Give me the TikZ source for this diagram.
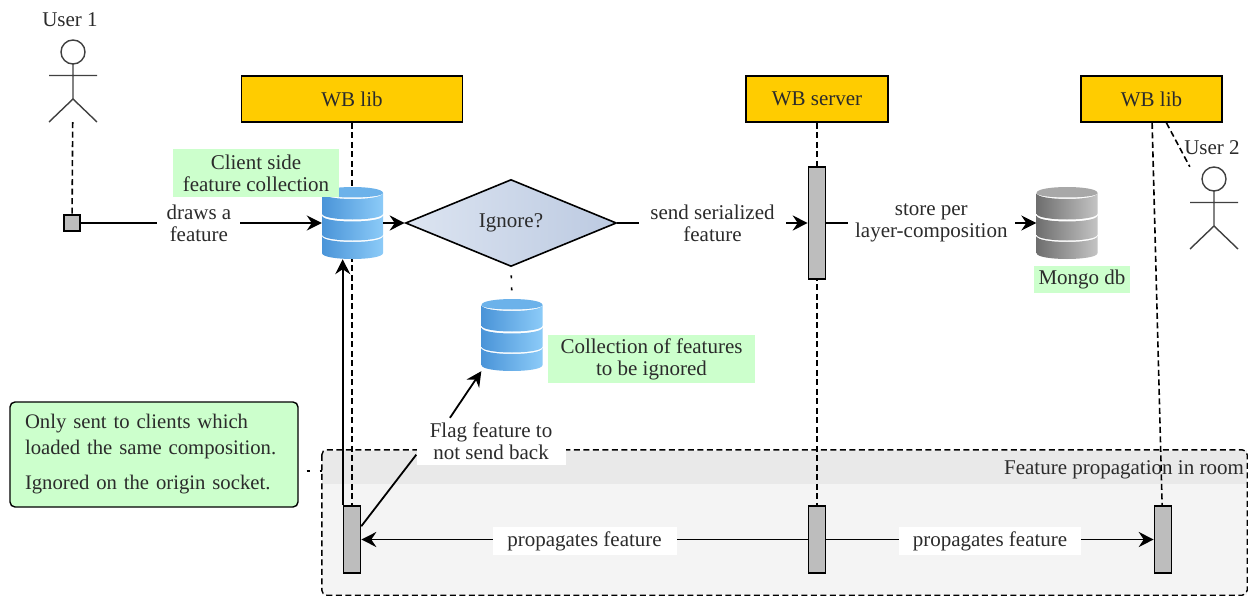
\documentclass[tikz,border=0pt]{standalone}
\usepackage{fontspec}
\setmainfont{Liberation Serif}
\usetikzlibrary{arrows.meta,shapes.geometric}
\pgfdeclarelayer{background}
\pgfdeclarelayer{lines}
\pgfsetlayers{background,lines,main}
\definecolor{headfill}{HTML}{FFCC00}
\definecolor{notegreen}{HTML}{CCFFCC}
\definecolor{barfill}{HTML}{BDBDBD}
\definecolor{roomfill}{HTML}{F4F4F4}
\definecolor{bandfill}{HTML}{E9E9E9}
\definecolor{inkgray}{HTML}{2B2B2B}
\definecolor{ignoreleft}{HTML}{DCE4F1}
\definecolor{ignoreright}{HTML}{BCCAE1}
\definecolor{bluedark}{HTML}{4A94D8}
\definecolor{bluemid}{HTML}{62AEEA}
\definecolor{bluelight}{HTML}{8CCBF8}
\definecolor{bluetop}{HTML}{6CB2EA}
\definecolor{greydark}{HTML}{6E6E6E}
\definecolor{greymid}{HTML}{9C9C9C}
\definecolor{greylight}{HTML}{C4C4C4}
\definecolor{greytop}{HTML}{A8A8A8}
\begin{document}
\begin{tikzpicture} [
                x=1pt,y=-1pt,
                font=\fontsize{21}{22}\selectfont,
                every node/.append style={text=inkgray},
                header/.style={draw=black,fill=headfill,line width=1.8pt,minimum height=46pt,inner sep=0pt},
                bar/.style={draw=black,fill=barfill,line width=1.6pt,minimum width=17pt,inner sep=0pt},
                mark box/.style={draw=black,fill=barfill,line width=1.6pt,minimum size=16pt,inner sep=0pt},
                hold/.style={minimum width=61pt,minimum height=72pt,inner sep=0pt},
                figure box/.style={minimum width=48pt,minimum height=82pt,inner sep=0pt},
                tag/.style={fill=notegreen,inner sep=0pt,align=center},
                lbl/.style={fill=white,align=center,inner sep=0pt},
                plain/.style={draw=black,line width=1.8pt},
                flow/.style={plain,-{Stealth[length=15pt,width=15pt,inset=5pt]}},
                lifeline/.style={draw=black,line width=1.6pt,dash pattern=on 6pt off 3.5pt},
                dots/.style={draw=black,line width=1.6pt},
                pics/actor/.style={code={
                    \draw[draw=black!75,line width=1.4pt] (0,-29) circle (12)
                        (0,-17) -- (0,18) (-24,-5.5) -- (24,-5.5)
                        (-24,41) -- (0,18) -- (24,41);
                }},
                pics/dbstack/.style n args={4}{code={
                    \fill[white] (-30.5,-30) .. controls (-30.5,-38) and (30.5,-38) .. (30.5,-30)
                        -- (30.5,30) .. controls (30.5,38) and (-30.5,38) .. (-30.5,30) -- cycle;
                    \foreach \top/\bot in {-30/-9.5,-7.5/11.5,13/30}
                        \shade[left color=#1,middle color=#2,right color=#3]
                            (-30.5,\top) -- (-30.5,\bot) .. controls (-30.5,\bot+8) and (30.5,\bot+8) .. (30.5,\bot)
                            -- (30.5,\top) .. controls (30.5,\top+8) and (-30.5,\top+8) .. cycle;
                    \fill[#4] (-30.5,-30) .. controls (-30.5,-38) and (30.5,-38) .. (30.5,-30)
                        .. controls (30.5,-24) and (-30.5,-24) .. cycle;
                }},
            ]
            \useasboundingbox (0,0) rectangle (1252,596);

            \foreach \pos/\name/\boxw/\txt in {
                    {(352,99)/liba/221/WB lib}, {(817,99)/server/142/WB server}, {(1151.5,99)/libb/141/WB lib}}
                \node[header,minimum width=\boxw pt] (\name) at \pos {\txt};

            \node[mark box] (mark) at (72,223) {};
            \node[figure box] (user1) at (73,81) {};
            \node[figure box] (user2) at (1214,208) {};
            \pic at (user1) {actor};
            \pic at (user2) {actor};
            \node[inner sep=0pt] (user1name) at (70,20) {User 1};
            \node[inner sep=0pt] (user2name) at (1212,148) {User 2};

            \node[bar,minimum height=112pt] (srvbar) at (817,223) {};
            \foreach \pos/\name in {
                    {(352,539.5)/lowa}, {(817,539.5)/lows}, {(1163,539.5)/lowb}}
                \node[bar,minimum height=67pt] (\name) at \pos {};

            \node[hold] (coll) at (352.5,223) {};
            \node[hold] (skip) at (512,335) {};
            \node[hold] (mongo) at (1067,223) {};

            % room in the back
            \begin{pgfonlayer}{background}
                \node[fill=roomfill,minimum width=925pt,minimum height=145pt,inner sep=0pt] (room) at (784.5,522.5) {};
                \node[fill=bandfill,minimum width=925pt,minimum height=33pt,inner sep=0pt] (band) at (784.5,467.5) {};
                \draw[line width=1.4pt,dash pattern=on 6pt off 3.5pt,rounded corners=5pt] (room.north west) rectangle (room.south east);
                \node[anchor=east,inner sep=0pt] (roomtitle) at (1244,470) {Feature propagation in room};
            \end{pgfonlayer}

            % lifelines
            \begin{pgfonlayer}{lines}
                \foreach \source/ \dest in {
                        user1/mark,liba/lowa,server/lows,libb/lowb}
                    \path[lifeline] (\source) -- (\dest);
                \path[lifeline] (libb.-58) -- (user2.north west);
            \end{pgfonlayer}

            \pic at (coll) {dbstack={bluedark}{bluemid}{bluelight}{bluetop}};
            \pic at (skip) {dbstack={bluedark}{bluemid}{bluelight}{bluetop}};
            \pic at (mongo) {dbstack={greydark}{greymid}{greylight}{greytop}};

            \node[diamond,draw=black,line width=1.6pt,left color=ignoreleft,right color=ignoreright,
                aspect=2.44,minimum width=211pt,minimum height=87pt,inner sep=0pt] (ignore) at (511,223) {\raisebox{-2.5pt}{Ignore?}};

            \path[flow] (mark) -- node[lbl,pos=.49,minimum width=83pt,minimum height=44pt] (draws) {draws a\\feature} (coll);
            \path[flow] (coll) -- (ignore);
            \path[flow] (ignore) -- node[lbl,minimum width=147pt,minimum height=44pt] (send) {send serialized\\feature} (srvbar);
            \path[flow] (srvbar) -- node[lbl,minimum width=167pt,minimum height=44pt] (store) {store per\\layer-composition} (mongo);
            \path[flow] (lowa.north west) -- (lowa.north west |- coll.south);
            \path[flow] (lows) -- node[lbl,minimum width=184pt,minimum height=28pt,yshift=-1.5pt] (propa) {propagates feature} (lowa);
            \path[flow] (lows) -- node[lbl,minimum width=182pt,minimum height=28pt,yshift=-1.5pt] (propb) {propagates feature} (lowb);

            \node[lbl,minimum width=149pt,minimum height=47pt] (flag) at (491,441.5) {Flag feature to\\not send back};
            \path[flow] (flag.150) -- (skip.south west);
            \path[plain] (lowa.55) -- (flag.190);

            \path[dots,dash pattern=on 0pt off 8pt on 3pt off 9pt on 3pt off 20pt] (ignore.south) -- (skip.north);

            \node[tag,minimum width=166pt,minimum height=48pt] (colltag) at (256,173) {Client side\\feature collection};
            \node[tag,minimum width=207pt,minimum height=48pt] (skiptag) at (651.5,359) {Collection of features\\to be ignored};
            \node[tag,minimum width=96pt,minimum height=27pt] (mongotag) at (1082,279.5) {Mongo db};

            \node[draw=black,fill=notegreen,line width=1.4pt,rounded corners=5pt,align=left,
                text width=258pt,inner xsep=15pt,inner ysep=0pt,minimum height=105pt,
                font=\fontsize{20.7}{22}\selectfont] (note) at (154,454.5)
                {Only sent to clients which\\[4pt]loaded the same composition.\\[13pt]Ignored on the origin socket.};
            \coordinate (notelink) at (322,471);
            \path[dots,dash pattern=on 0pt off 8pt on 3pt off 10pt on 3pt off 20pt] (note.east |- notelink) -- (notelink);
        \end{tikzpicture}
\end{document}
